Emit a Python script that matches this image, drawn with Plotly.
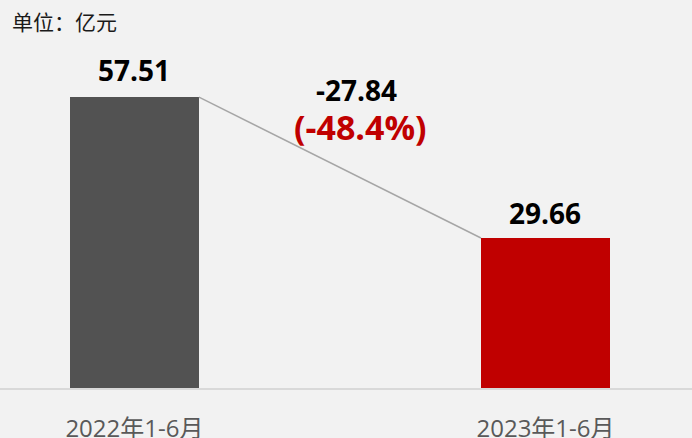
import plotly.graph_objects as go

categories = ["2022年1-6月", "2023年1-6月"]
values = [57.51, 29.66]
value_labels = ["57.51", "29.66"]
bar_colors = ["#525252", "#c00000"]
change_label = "-27.84"
change_pct_label = "(-48.4%)"
unit_label = "单位：亿元"

FONT = "Open Sans, Noto Sans CJK SC, sans-serif"
xs = list(range(len(categories)))
bw = 0.314

fig = go.Figure()
fig.add_trace(go.Bar(x=xs, y=values, width=bw, marker=dict(color=bar_colors, line=dict(width=0)),
                     hoverinfo="skip"))
fig.add_trace(go.Scatter(x=[xs[0] + bw / 2, xs[1] - bw / 2], y=values, mode="lines",
                         line=dict(color="#a6a6a6", width=1.5), hoverinfo="skip"))

annotations = []
for x, v, t, ys in zip(xs, values, value_labels, [6, 4]):
    annotations.append(dict(x=x, y=v, text=f"<b>{t}</b>", showarrow=False, yanchor="bottom",
                            yshift=ys, font=dict(size=28, color="#000000", family=FONT)))
annotations.append(dict(x=0.54, y=58.9, text=f"<b>{change_label}</b>", showarrow=False,
                        yanchor="middle", font=dict(size=28, color="#000000", family=FONT)))
annotations.append(dict(x=0.55, y=51.5, text=f"<b>{change_pct_label}</b>", showarrow=False,
                        yanchor="middle", font=dict(size=34, color="#c00000", family=FONT)))
annotations.append(dict(xref="paper", yref="paper", x=0, y=1, xshift=10, yshift=-6,
                        xanchor="left", yanchor="top", text=unit_label, showarrow=False,
                        font=dict(size=21, color="#1a1a1a", family=FONT)))

fig.update_layout(
    width=692, height=438,
    margin=dict(l=0, r=0, t=0, b=50),
    paper_bgcolor="#f2f2f2", plot_bgcolor="#f2f2f2",
    showlegend=False,
    bargap=0,
    annotations=annotations,
    xaxis=dict(range=[-0.327, 1.3564], tickvals=xs, ticktext=categories, showgrid=False,
               zeroline=False, showline=True, linecolor="#d9d9d9", linewidth=2,
               ticks="", ticklabelstandoff=18, automargin=False,
               tickfont=dict(size=24, color="#595959", family=FONT), fixedrange=True),
    yaxis=dict(range=[0, 76.7], visible=False, fixedrange=True, automargin=False),
)

fig.write_html("out.html", config={"displayModeBar": False},
               post_script="document.body.style.margin='0';document.body.style.background='#f2f2f2';")
